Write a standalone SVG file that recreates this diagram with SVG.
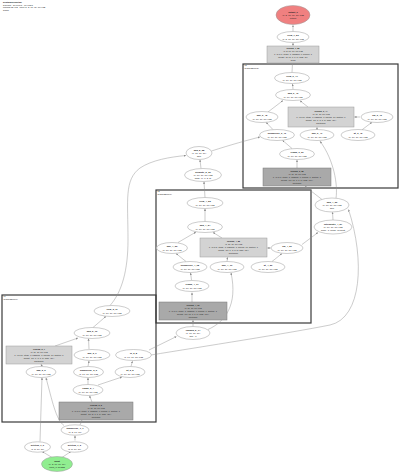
<svg xmlns="http://www.w3.org/2000/svg" width="400" height="475" viewBox="0 0 400 475">
<style>
.e{fill:#fff;stroke:#9a9a9a;stroke-width:0.5}
.b{fill:#d3d3d3;stroke:#9a9a9a;stroke-width:0.5}
.d{fill:#a9a9a9;stroke:#7a7a7a;stroke-width:0.5}
.r{fill:#f08080;stroke:#9a9a9a;stroke-width:0.5}
.g{fill:#90ee90;stroke:#9a9a9a;stroke-width:0.5}
.cl{fill:none;stroke:#3a3a3a;stroke-width:1.2}
.t{font-family:"Liberation Sans",Arial,sans-serif;font-size:2.3px;fill:#222;text-anchor:middle}
.s{font-family:"Liberation Sans",Arial,sans-serif;font-size:2.1px;fill:#222;text-anchor:middle}
.h{font-family:"Liberation Sans",Arial,sans-serif;font-size:2.2px;fill:#222}
.c{font-family:"Liberation Sans",Arial,sans-serif;font-size:1.9px;fill:#222}
.tb{font-weight:bold}
.ed path{fill:none;stroke:#8c8c8c;stroke-width:0.45;marker-end:url(#ah)}
</style>
<defs>
<marker id="ah" viewBox="0 0 10 10" refX="10" refY="5" markerWidth="2.2" markerHeight="2.2" markerUnits="userSpaceOnUse" orient="auto"><path d="M0,0 L10,5 L0,10z" fill="#8c8c8c"/></marker>
</defs>
<rect width="400" height="475" fill="#fff"/>

<g id="header">
<text class="h tb" x="3" y="3.3">DepthwiseUNet3D</text>
<text class="h" x="3" y="6.0">3 blocks · 57 nodes · 61 edges</text>
<text class="h" x="3" y="8.2">params 12,402 · input (1, 2, 16, 16, 16) F32</text>
<text class="h" x="3" y="11.2">graph</text>
</g>

<g id="clusters">
<g id="cluster1"><rect class="cl" x="243" y="64" width="155" height="124"/><text class="c" x="244.5" y="66.4">L3</text><text class="c" x="244.5" y="68.8">ResidualBlock(2)</text></g>
<g id="cluster2"><rect class="cl" x="156" y="190" width="155" height="133"/><text class="c" x="157.5" y="192.4">L2</text><text class="c" x="157.5" y="194.8">ResidualBlock(1)</text></g>
<g id="cluster3"><rect class="cl" x="2" y="295" width="154" height="127"/><text class="c" x="3.5" y="297.4">L1</text><text class="c" x="3.5" y="299.8">ResidualBlock(0)</text></g>
</g>

<g class="ed" id="edges">
<path d="M293,31.5 L293,25.2"/>
<path d="M293,46 L293,43"/>
<path d="M292,72.5 L292.5,63.2"/>
<path d="M293,89 L292.5,84"/>
<path d="M268,112 L283,100.5"/>
<path d="M308,107 L300,100.8"/>
<path d="M360,117 L354.3,117"/>
<path d="M273,129.6 L266,122.3"/>
<path d="M317,129.5 L317,127.3"/>
<path d="M362,129.8 L372,122.2"/>
<path d="M292,148.5 L282.5,140.3"/>
<path d="M297,168 L297,160"/>
<path d="M211.5,151 C230,145 248,140 260,137"/>
<path d="M201,168.5 L200,159.7"/>
<path d="M205,197.5 L204,181.7"/>
<path d="M110,305.5 C122,292 128,270 128,240 C128,200 124,180 140,168 C152,160 170,157 186,155.5"/>
<path d="M322,199.5 L305,186.3"/>
<path d="M336,198.2 C338,185 334,160 320,141.2"/>
<path d="M333,220 L332.5,212.2"/>
<path d="M302,244.5 L318,232.5"/>
<path d="M151,355 C200,347 290,333 330,325 C362,318 365,260 348.5,209.5"/>
<path d="M149,350 L176.5,336.5"/>
<path d="M193,326.5 L193,320.3"/>
<path d="M208,329.5 C225,322 238,305 231,272.8"/>
<path d="M205,221.5 L205,208.7"/>
<path d="M178,242.5 L196,232"/>
<path d="M222,238 L213,232.4"/>
<path d="M271,248 L267.3,248"/>
<path d="M186,261.5 L176,253.5"/>
<path d="M227,261.5 L227.5,257.3"/>
<path d="M272,261.5 L282,253.5"/>
<path d="M191.5,280 L190.5,272.8"/>
<path d="M192,302 L192,292.6"/>
<path d="M93,327.5 L106,316.3"/>
<path d="M55,346 L78,338"/>
<path d="M89,349 L88.5,338.6"/>
<path d="M131,366.5 L132.5,361.2"/>
<path d="M42,366.5 L41,364.2"/>
<path d="M88,366.5 L89,360.8"/>
<path d="M88,384.5 L88,377.8"/>
<path d="M98,385 L122,377"/>
<path d="M92,402 L89.5,395.7"/>
<path d="M40,441.5 L42,377.7"/>
<path d="M80,425 L82,420.3"/>
<path d="M64,425.5 C56,420 52,400 46,377.8"/>
<path d="M75,440.5 L75,435.6"/>
<path d="M52,457.5 L42,451.4"/>
<path d="M62,457.5 L71,451.4"/>
</g>

<g id="n_output"><ellipse class="r" cx="293" cy="15" rx="17" ry="9.5"/><text class="t" x="293" y="12.7"><tspan class="tb">output_0</tspan><tspan x="293" dy="3.2">(1, 2, 16, 16, 16) F32</tspan><tspan x="293" dy="3.2">output</tspan></text></g>
<g id="n_view_out"><ellipse class="e" cx="293" cy="37" rx="16" ry="5.5"/><text class="t" x="293" y="36.3"><tspan class="tb">view_7_56</tspan><tspan x="293" dy="3.2">(1, 2, 16, 16, 16) F32</tspan></text></g>
<g id="n_conv_out"><rect class="b" x="267" y="46" width="52" height="17"/><text class="s" x="293" y="49.4"><tspan class="tb">conv3d_7_55</tspan><tspan x="293" dy="3">(1, 2, 16, 16, 16) F32</tspan><tspan x="293" dy="3">k=(1,1,1), stride=1, padding=0, groups=1</tspan><tspan x="293" dy="3">weight=(2, 16, 1, 1, 1), bias=(2,)</tspan><tspan x="293" dy="3">head</tspan></text></g>

<g id="c1_view"><ellipse class="e" cx="292" cy="78" rx="17.5" ry="5.5"/><text class="t" x="292" y="77.3"><tspan class="tb">view_6_47</tspan><tspan x="292" dy="3.2">(1, 16, 16, 16) F32</tspan></text></g>
<g id="c1_add"><ellipse class="e" cx="293" cy="95" rx="17.5" ry="5.5"/><text class="t" x="293" y="94.3"><tspan class="tb">add_6_46</tspan><tspan x="293" dy="3.2">(1, 16, 16, 16) F32</tspan></text></g>
<g id="c1_mul"><ellipse class="e" cx="262" cy="117" rx="16" ry="5.5"/><text class="t" x="262" y="116.3"><tspan class="tb">mul_6_45</tspan><tspan x="262" dy="3.2">(1, 16, 16, 16) F32</tspan></text></g>
<g id="c1_conv"><rect class="b" x="288" y="107" width="66" height="20"/><text class="s" x="321" y="111.9"><tspan class="tb">conv3d_6_44</tspan><tspan x="321" dy="3">(1, 16, 16, 16) F32</tspan><tspan x="321" dy="3">k=(3,3,3), stride=1, padding=1, groups=16, dilation=1</tspan><tspan x="321" dy="3">weight=(16, 1, 3, 3, 3), bias=(16,)</tspan><tspan x="321" dy="3">depthwise</tspan></text></g>
<g id="c1_sig"><ellipse class="e" cx="377" cy="117" rx="16" ry="5.5"/><text class="t" x="377" y="116.3"><tspan class="tb">sig_6_43</tspan><tspan x="377" dy="3.2">(1, 16, 16, 16) F32</tspan></text></g>
<g id="c1_unsq"><ellipse class="e" cx="277" cy="135" rx="17.5" ry="5.5"/><text class="t" x="277" y="134.3"><tspan class="tb">unsqueeze_6_40</tspan><tspan x="277" dy="3.2">(1, 16, 16, 16) F32</tspan></text></g>
<g id="c1_mul2"><ellipse class="e" cx="317" cy="135" rx="17" ry="5.5"/><text class="t" x="317" y="134.3"><tspan class="tb">mul_6_41</tspan><tspan x="317" dy="3.2">(1, 16, 16, 16) F32</tspan></text></g>
<g id="c1_gt"><ellipse class="e" cx="358" cy="135" rx="17" ry="5.5"/><text class="t" x="358" y="134.3"><tspan class="tb">gt_6_42</tspan><tspan x="358" dy="3.2">(1, 16, 16, 16) F32</tspan></text></g>
<g id="c1_clamp"><ellipse class="e" cx="297" cy="154" rx="17.5" ry="5.5"/><text class="t" x="297" y="153.3"><tspan class="tb">clamp_6_39</tspan><tspan x="297" dy="3.2">(1, 16, 16, 16) F32</tspan></text></g>
<g id="c1_pw"><rect class="d" x="263" y="168" width="68" height="18"/><text class="s" x="297" y="171.9"><tspan class="tb">conv3d_6_38</tspan><tspan x="297" dy="3">(1, 16, 16, 16) F32</tspan><tspan x="297" dy="3">k=(1,1,1), stride=1, padding=0, groups=1, dilation=1</tspan><tspan x="297" dy="3">weight=(16, 16, 1, 1, 1), bias=(16,)</tspan><tspan x="297" dy="3">pointwise</tspan></text></g>

<g id="n_add_5_28"><ellipse class="e" cx="199" cy="153" rx="13" ry="6.5"/><text class="t" x="199" y="150.7"><tspan class="tb">add_5_28</tspan><tspan x="199" dy="3.2">(1, 16, 16, 16)</tspan><tspan x="199" dy="3.2">skip</tspan></text></g>
<g id="n_permute"><ellipse class="e" cx="203" cy="175" rx="18.5" ry="6.5"/><text class="t" x="203" y="172.7"><tspan class="tb">permute_5_29</tspan><tspan x="203" dy="3.2">(1, 16, 16, 16) F32</tspan><tspan x="203" dy="3.2">dims=(0, 1, 2, 3)</tspan></text></g>
<g id="n_add_4"><ellipse class="e" cx="332" cy="205" rx="17" ry="7"/><text class="t" x="332" y="202.7"><tspan class="tb">add_4_26</tspan><tspan x="332" dy="3.2">(1, 16, 16, 16) F32</tspan><tspan x="332" dy="3.2">skip</tspan></text></g>
<g id="n_interp"><ellipse class="e" cx="333" cy="227" rx="19" ry="7"/><text class="t" x="333" y="224.7"><tspan class="tb">interpolate_4_27</tspan><tspan x="333" dy="3.2">(1, 16, 16, 16) F32</tspan><tspan x="333" dy="3.2">scale=1, mode=nearest</tspan></text></g>

<g id="c2_view"><ellipse class="e" cx="205" cy="203" rx="18" ry="5.5"/><text class="t" x="205" y="202.3"><tspan class="tb">view_4_25</tspan><tspan x="205" dy="3.2">(1, 16, 16, 16) F32</tspan></text></g>
<g id="c2_add"><ellipse class="e" cx="205" cy="227" rx="17.5" ry="5.5"/><text class="t" x="205" y="226.3"><tspan class="tb">add_4_24</tspan><tspan x="205" dy="3.2">(1, 16, 16, 16) F32</tspan></text></g>
<g id="c2_mul"><ellipse class="e" cx="172" cy="248" rx="15.5" ry="5.5"/><text class="t" x="172" y="247.3"><tspan class="tb">mul_4_23</tspan><tspan x="172" dy="3.2">(1, 16, 16, 16) F32</tspan></text></g>
<g id="c2_conv"><rect class="b" x="200" y="238" width="67" height="19"/><text class="s" x="233.5" y="242.4"><tspan class="tb">conv3d_4_22</tspan><tspan x="233.5" dy="3">(1, 16, 16, 16) F32</tspan><tspan x="233.5" dy="3">k=(3,3,3), stride=1, padding=1, groups=16, dilation=1</tspan><tspan x="233.5" dy="3">weight=(16, 1, 3, 3, 3), bias=(16,)</tspan><tspan x="233.5" dy="3">depthwise</tspan></text></g>
<g id="c2_sig"><ellipse class="e" cx="287" cy="248" rx="16" ry="5.5"/><text class="t" x="287" y="247.3"><tspan class="tb">sig_4_21</tspan><tspan x="287" dy="3.2">(1, 16, 16, 16) F32</tspan></text></g>
<g id="c2_unsq"><ellipse class="e" cx="190" cy="267" rx="17" ry="5.5"/><text class="t" x="190" y="266.3"><tspan class="tb">unsqueeze_4_18</tspan><tspan x="190" dy="3.2">(1, 16, 16, 16) F32</tspan></text></g>
<g id="c2_mul2"><ellipse class="e" cx="227" cy="267" rx="17" ry="5.5"/><text class="t" x="227" y="266.3"><tspan class="tb">mul_4_19</tspan><tspan x="227" dy="3.2">(1, 16, 16, 16) F32</tspan></text></g>
<g id="c2_gt"><ellipse class="e" cx="268" cy="267" rx="17" ry="5.5"/><text class="t" x="268" y="266.3"><tspan class="tb">gt_4_20</tspan><tspan x="268" dy="3.2">(1, 16, 16, 16) F32</tspan></text></g>
<g id="c2_clamp"><ellipse class="e" cx="192" cy="286" rx="17" ry="5.5"/><text class="t" x="192" y="285.3"><tspan class="tb">clamp_4_17</tspan><tspan x="192" dy="3.2">(1, 16, 16, 16) F32</tspan></text></g>
<g id="c2_pw"><rect class="d" x="159" y="302" width="68" height="18"/><text class="s" x="193" y="305.9"><tspan class="tb">conv3d_4_16</tspan><tspan x="193" dy="3">(1, 16, 16, 16) F32</tspan><tspan x="193" dy="3">k=(1,1,1), stride=1, padding=0, groups=1, dilation=1</tspan><tspan x="193" dy="3">weight=(16, 16, 1, 1, 1), bias=(16,)</tspan><tspan x="193" dy="3">pointwise</tspan></text></g>

<g id="n_expand"><ellipse class="e" cx="193" cy="333" rx="17" ry="6.5"/><text class="t" x="193" y="330.7"><tspan class="tb">expand_2_14</tspan><tspan x="193" dy="3.2">(1, 16, 16, 16)</tspan><tspan x="193" dy="3.2">dim=-1</tspan></text></g>

<g id="c3_view"><ellipse class="e" cx="112" cy="311" rx="18" ry="5.5"/><text class="t" x="112" y="310.3"><tspan class="tb">view_2_11</tspan><tspan x="112" dy="3.2">(1, 16, 16, 16) F32</tspan></text></g>
<g id="c3_add"><ellipse class="e" cx="92" cy="333" rx="18" ry="5.5"/><text class="t" x="92" y="332.3"><tspan class="tb">add_2_10</tspan><tspan x="92" dy="3.2">(1, 16, 16, 16) F32</tspan></text></g>
<g id="c3_conv"><rect class="b" x="6" y="346" width="66" height="18"/><text class="s" x="39" y="349.9"><tspan class="tb">conv3d_2_7</tspan><tspan x="39" dy="3">(1, 16, 16, 16) F32</tspan><tspan x="39" dy="3">k=(3,3,3), stride=1, padding=1, groups=16, dilation=1</tspan><tspan x="39" dy="3">weight=(16, 1, 3, 3, 3), bias=(16,)</tspan><tspan x="39" dy="3">depthwise</tspan></text></g>
<g id="c3_mul"><ellipse class="e" cx="92" cy="355" rx="18" ry="5.5"/><text class="t" x="92" y="354.3"><tspan class="tb">mul_2_9</tspan><tspan x="92" dy="3.2">(1, 16, 16, 16) F32</tspan></text></g>
<g id="c3_ln"><ellipse class="e" cx="133.5" cy="355" rx="18" ry="5.5"/><text class="t" x="133.5" y="354.3"><tspan class="tb">ln_2_8</tspan><tspan x="133.5" dy="3.2">(1, 16, 16, 16) F32</tspan></text></g>
<g id="c3_add3"><ellipse class="e" cx="41" cy="372" rx="15" ry="5.5"/><text class="t" x="41" y="371.3"><tspan class="tb">add_2_3</tspan><tspan x="41" dy="3.2">(1, 16, 16, 16) F32</tspan></text></g>
<g id="c3_unsq"><ellipse class="e" cx="88.5" cy="372" rx="15" ry="5.5"/><text class="t" x="88.5" y="371.3"><tspan class="tb">unsqueeze_2_6</tspan><tspan x="88.5" dy="3.2">(1, 16, 16, 16) F32</tspan></text></g>
<g id="c3_gt"><ellipse class="e" cx="130" cy="372" rx="15" ry="5.5"/><text class="t" x="130" y="371.3"><tspan class="tb">gt_2_5</tspan><tspan x="130" dy="3.2">(1, 16, 16, 16) F32</tspan></text></g>
<g id="c3_clamp"><ellipse class="e" cx="88" cy="390" rx="15" ry="5.5"/><text class="t" x="88" y="389.3"><tspan class="tb">clamp_2_4</tspan><tspan x="88" dy="3.2">(1, 16, 16, 16) F32</tspan></text></g>
<g id="c3_pw"><rect class="d" x="59" y="402" width="74" height="18"/><text class="s" x="96" y="405.9"><tspan class="tb">conv3d_2_2</tspan><tspan x="96" dy="3">(1, 16, 16, 16) F32</tspan><tspan x="96" dy="3">k=(1,1,1), stride=1, padding=0, groups=1, dilation=1</tspan><tspan x="96" dy="3">weight=(16, 2, 1, 1, 1), bias=(16,)</tspan><tspan x="96" dy="3">pointwise</tspan></text></g>

<g id="n_unsq_1"><ellipse class="e" cx="75" cy="430" rx="14" ry="5.2"/><text class="t" x="75" y="429.3"><tspan class="tb">unsqueeze_1_1</tspan><tspan x="75" dy="3.2">(1, 2, 16, 16)</tspan></text></g>
<g id="n_getitem_0"><ellipse class="e" cx="37.5" cy="447" rx="13" ry="5.2"/><text class="t" x="37.5" y="446.3"><tspan class="tb">getitem_1_0</tspan><tspan x="37.5" dy="3.2">(1, 2, 16, 16)</tspan></text></g>
<g id="n_getitem_2"><ellipse class="e" cx="74.5" cy="447" rx="13.5" ry="5.2"/><text class="t" x="74.5" y="446.3"><tspan class="tb">getitem_1_2</tspan><tspan x="74.5" dy="3.2">(1, 2, 16, 16)</tspan></text></g>
<g id="n_input"><ellipse class="g" cx="57" cy="464" rx="15.5" ry="7.5"/><text class="t" x="57" y="461.7"><tspan class="tb">input</tspan><tspan x="57" dy="3.2">(1, 2, 16, 16, 16)</tspan><tspan x="57" dy="3.2">input_0: float32</tspan></text></g>
</svg>
